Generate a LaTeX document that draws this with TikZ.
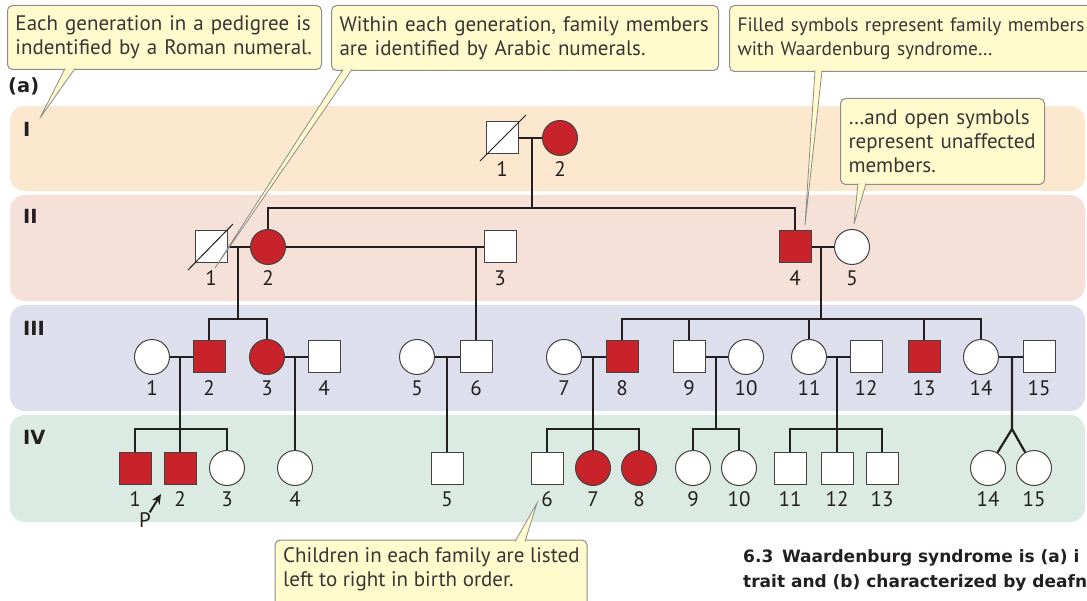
\documentclass[tikz,border=0pt]{standalone}
\usepackage{fontspec}
\setmainfont{PT Sans}
\newfontfamily\hvy{DejaVu Sans}
\usetikzlibrary{arrows.meta,calc}
\definecolor{ink}{HTML}{231F20}
\definecolor{wsred}{HTML}{C8232B}
\definecolor{bandI}{HTML}{FBE8CF}
\definecolor{bandII}{HTML}{F6E1D9}
\definecolor{bandIII}{HTML}{DEDFEC}
\definecolor{bandIV}{HTML}{DCEAE4}
\definecolor{callfill}{HTML}{FFFBCC}
\definecolor{callline}{HTML}{8C8C8C}
% one family member: name, style, x, y, number
\newcommand\pers[5]{\node[#2](#1) at (#3,#4){}; \node[num](#1l) at (#3,#4+31.5){#5};}

\begin{document}
\begin{tikzpicture}[x=1pt,y=-1pt,font=\fontsize{21}{24}\selectfont,
  sq/.style={draw=ink!85,line width=1pt,minimum size=32pt,inner sep=0pt,fill=white},
  ci/.style={sq,circle,minimum size=35pt},
  aff/.style={fill=wsred},
  ln/.style={draw=ink,line width=2.2pt},
  num/.style={inner sep=0pt,text=ink},
  gen/.style={font=\hvy\bfseries\fontsize{19.5}{22}\selectfont,text=ink,anchor=west,inner sep=0pt},
  call/.style={draw=callline,fill=callfill,rounded corners=5pt,line width=1pt,anchor=north west,align=left,inner xsep=8pt,text=ink!90},
  tail/.style={fill=callfill,draw=callline,line width=0.8pt}]
  \useasboundingbox (0,0) rectangle (1087,601);
  % generation bands
  \fill[bandI,rounded corners=15pt](10,106) rectangle (1085,191);
  \fill[bandII,rounded corners=15pt](10,195) rectangle (1085,301);
  \fill[bandIII,rounded corners=15pt](10,305) rectangle (1085,411);
  \fill[bandIV,rounded corners=15pt](10,415) rectangle (1085,522);
  \node[gen](ga) at (8,86){(a)};
  \node[gen](g1) at (23,129){I};
  \node[gen](g2) at (23,216){II};
  \node[gen](g3) at (23,328){III};
  \node[gen](g4) at (23,437){IV};
  % generation I
  \pers{i1}{sq}{502}{138}{1}\pers{i2}{ci,aff}{560}{138}{2}
  \draw[ink,line width=1pt]($(i1)+(-22,23)$)--($(i1)+(24,-23)$);
  % generation II
  \pers{ii1}{sq}{211}{247}{1}\pers{ii2}{ci,aff}{268}{247}{2}\pers{ii3}{sq}{500}{247}{3}
  \pers{ii4}{sq,aff}{795}{247}{4}\pers{ii5}{ci}{852}{247}{5}
  \draw[ink,line width=1pt]($(ii1)+(-23,23)$)--($(ii1)+(22,-23)$);
  % generation III
  \pers{iii1}{ci}{152}{357}{1}\pers{iii2}{sq,aff}{209}{357}{2}\pers{iii3}{ci,aff}{267}{357}{3}\pers{iii4}{sq}{324}{357}{4}
  \pers{iii5}{ci}{417}{357}{5}\pers{iii6}{sq}{476}{357}{6}
  \pers{iii7}{ci}{564}{357}{7}\pers{iii8}{sq,aff}{622}{357}{8}
  \pers{iii9}{sq}{689}{357}{9}\pers{iii10}{ci}{746}{357}{10}
  \pers{iii11}{ci}{809}{357}{11}\pers{iii12}{sq}{866}{357}{12}
  \pers{iii13}{sq,aff}{924}{357}{13}
  \pers{iii14}{ci}{981}{357}{14}\pers{iii15}{sq}{1039}{357}{15}
  % generation IV
  \pers{iv1}{sq,aff}{135}{468}{1}\pers{iv2}{sq,aff}{180}{468}{2}\pers{iv3}{ci}{227}{468}{3}
  \pers{iv4}{ci}{295}{468}{4}\pers{iv5}{sq}{447}{468}{5}
  \pers{iv6}{sq}{547}{468}{6}\pers{iv7}{ci,aff}{593}{468}{7}\pers{iv8}{ci,aff}{639}{468}{8}
  \pers{iv9}{ci}{693}{468}{9}\pers{iv10}{ci}{739}{468}{10}
  \pers{iv11}{sq}{790}{468}{11}\pers{iv12}{sq}{837}{468}{12}\pers{iv13}{sq}{882}{468}{13}
  \pers{iv14}{ci}{988}{468}{14}\pers{iv15}{ci}{1034}{468}{15}
  % matings and sibships
  \coordinate(si) at (532,208);
  \coordinate(s12) at (238,319);
  \coordinate(s45) at (821,319);
  \coordinate(s3a) at (180,429);
  \coordinate(s78) at (593,429);
  \coordinate(s910) at (716,429);
  \coordinate(s1112) at (837,429);
  \coordinate(tw) at (1012,429);
  \draw[ln](i1)--(i2);\draw[ln](si|-i1)--(si);\draw[ln](ii2)|-(si)-|(ii4);
  \draw[ln](ii1)--(ii2);\draw[ln](ii2)--(ii3);\draw[ln](ii4)--(ii5);
  \draw[ln](s12|-ii1)--(s12);\draw[ln](iii2)|-(s12)-|(iii3);
  \draw[ln](iii6|-ii3)--(iii6);
  \draw[ln](s45|-ii4)--(s45);\draw[ln](iii8)|-(s45)-|(iii14);
  \foreach \k in {iii9,iii11,iii13}\draw[ln](\k)--(\k|-s45);
  \draw[ln](iii1)--(iii2);\draw[ln](iii3)--(iii4);\draw[ln](iii5)--(iii6);\draw[ln](iii7)--(iii8);
  \draw[ln](iii9)--(iii10);\draw[ln](iii11)--(iii12);\draw[ln](iii14)--(iii15);
  \draw[ln](s3a|-iii1)--(iv2);\draw[ln](iv1)|-(s3a)-|(iv3);
  \draw[ln](iv4|-iii3)--(iv4);\draw[ln](iv5|-iii5)--(iv5);
  \draw[ln](iv7|-iii7)--(iv7);\draw[ln](iv6)|-(s78)-|(iv8);
  \draw[ln](s910|-iii9)--(s910);\draw[ln](iv9)|-(s910)-|(iv10);
  \draw[ln](iv12|-iii11)--(iv12);\draw[ln](iv11)|-(s1112)-|(iv13);
  \draw[ln](tw|-iii14)--(tw)--(iv14);\draw[ln](tw)--(iv15);
  % proband
  \node[num](pp) at (145,520){P};
  \coordinate(ptip) at (161,494);
  \draw[ink,line width=2pt,-{Stealth[length=10pt,width=9pt]}](pp)--(ptip);
  % callouts
  \node[call,minimum width=314pt,minimum height=64pt,text width=298pt](cgen) at (7,5){Each generation in a pedigree is\\indentified by a Roman numeral.};
  \node[call,minimum width=387pt,minimum height=65pt,text width=371pt](cnum) at (331,5){Within each generation, family members\\are identified by Arabic numerals.};
  \node[call,minimum width=420pt,minimum height=66pt,text width=404pt,font=\fontsize{19.4}{24}\selectfont](caff) at (729,5){Filled symbols represent family members\\with Waardenburg syndrome…};
  \node[call,minimum width=204pt,minimum height=86pt,text width=188pt](cunaff) at (840,98){…and open symbols\\represent unaffected\\members.};
  \draw[call](275,540) rectangle (587,625);
  \node[num,text=ink!90,align=left,anchor=west](corder) at (283,569){Children in each family are listed\\left to right in birth order.};
  \coordinate(tgen) at (40,118);
  \coordinate(tnum) at (215,268);
  \coordinate(taff) at (805,225);
  \coordinate(tunaff) at (854,224);
  \coordinate(tord) at (537,503);
  \path[tail]($(cgen.south west)+(58,-1.5)$)--(tgen)--($(cgen.south west)+(68,-1.5)$);
  \path[tail]($(cnum.south west)+(12,-1.5)$)--(tnum)--($(cnum.south west)+(21,-1.5)$);
  \path[tail]($(caff.south west)+(86,-1.5)$)--(taff)--($(caff.south west)+(93,-1.5)$);
  \path[tail]($(cunaff.south west)+(18,-1.5)$)--(tunaff)--($(cunaff.south west)+(26,-1.5)$);
  \path[tail](515,541.5)--(tord)--(525,541.5);
  % caption
  \node[num,anchor=base west,font=\hvy\bfseries\fontsize{17}{22}\selectfont](cap1) at (743,562){6.3\, Waardenburg syndrome is (a) i};
  \node[num,anchor=base west,font=\hvy\bfseries\fontsize{17}{22}\selectfont](cap2) at (743,587){trait and (b) characterized by deafn};
\end{tikzpicture}
\end{document}
